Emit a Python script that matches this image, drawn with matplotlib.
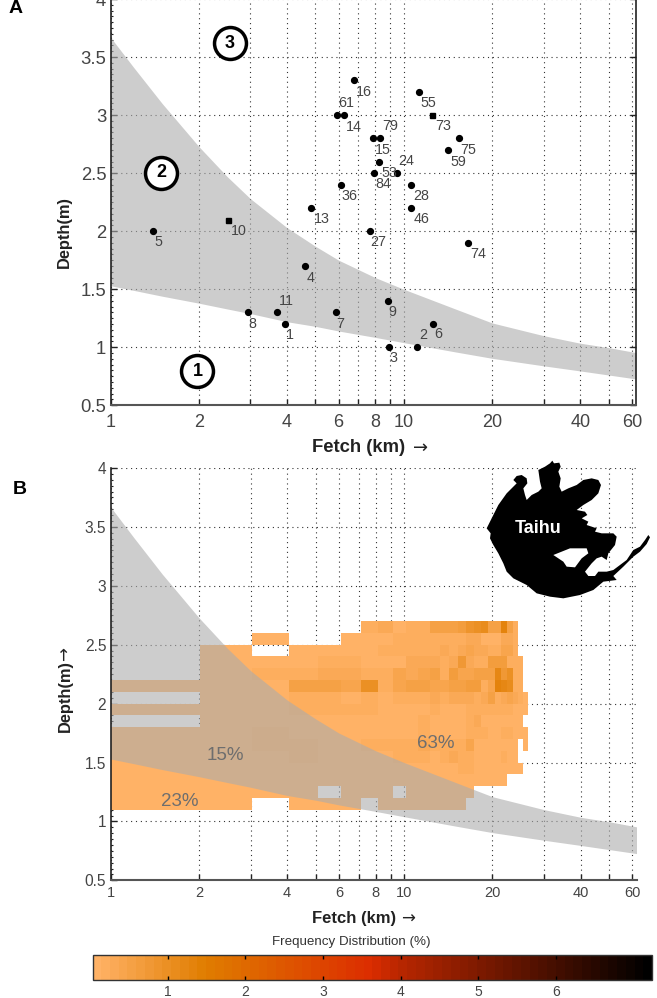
import numpy as np
import matplotlib
matplotlib.use("Agg")
import matplotlib.pyplot as plt
from matplotlib.colors import LinearSegmentedColormap

nan = np.nan

# grey band
fetch_band = [1, 1.2, 1.5, 2, 2.5, 3, 4, 5, 6, 8, 10, 15, 20, 30, 40, 50, 62]
band_upper = [3.67, 3.41, 3.10, 2.73, 2.47, 2.28, 2.03, 1.87, 1.75, 1.60, 1.50, 1.33, 1.21, 1.10, 1.035, 0.997, 0.954]
band_lower = [1.53, 1.49, 1.44, 1.38, 1.33, 1.29, 1.22, 1.18, 1.14, 1.085, 1.04, 0.96, 0.905, 0.84, 0.796, 0.761, 0.727]

# lakes in panel A
lake_names = ["16", "55", "61", "14", "73", "79", "15", "75", "59", "53", "84", "24", "36", "28",
              "13", "46", "10", "5", "27", "74", "4", "9", "8", "11", "7", "1", "6", "2", "3"]
lake_fetch = [6.75, 11.3, 6.24, 5.92, 12.5, 8.3, 7.87, 15.4, 14.2, 8.25, 7.93, 9.48, 6.09, 10.6,
              4.82, 10.6, 2.52, 1.40, 7.65, 16.6, 4.62, 8.81, 2.94, 3.70, 5.86, 3.94, 12.55, 11.1, 8.88]
lake_depth = [3.3, 3.2, 3.0, 3.0, 3.0, 2.8, 2.8, 2.8, 2.7, 2.6, 2.5, 2.5, 2.4, 2.4,
              2.2, 2.2, 2.1, 2.0, 2.0, 1.9, 1.7, 1.4, 1.3, 1.3, 1.3, 1.2, 1.2, 1.0, 1.0]
square_lakes = ["73", "10"]
# label offset from its point, in pixels
label_dx = [10.7, 9.3, 3, 17.3, 10.7, 10, 10, 10, 10, 10, 9, 9.7, 9.3, 10,
            11, 10.3, 10.3, 5.3, 9, 9.7, 5.7, 5, 5, 9.7, 5, 5, 6, 6, 5.3]
label_dy = [11.3, 11, -12.3, 12, 11.3, -12, 11.3, 11.3, 11.7, 11.3, 11.3, -11.7, 11.7, 11.7,
            11.3, 11.3, 11.7, 11.3, 11.3, 11, 11.7, 11.3, 11.3, -11.3, 11.3, 11.3, 10.3, -12.7, 11]

# frequency cells of panel B
fetch_edges = [1, 2.02, 3.04, 4.06, 5.08, 6.1, 7.12, 8.14, 9.16, 10.18, 11.2, 12.22, 13.24, 14.26,
               15.28, 16.3, 17.32, 18.34, 19.36, 20.38, 21.4, 22.42, 23.44, 24.46, 25.48, 26.5]
depth_edges = [1.1, 1.2, 1.3, 1.4, 1.5, 1.6, 1.7, 1.8, 1.9, 2.0, 2.1, 2.2, 2.3, 2.4, 2.5, 2.6, 2.7]
freq = np.array([
    [.1, .1, nan, .1, .1, .1, nan, .1, .1, .1, .1, .1, .1, .1, .1, nan, nan, nan, nan, nan, nan, nan, nan, nan, nan],
    [.1, .1, .1, .1, nan, .1, .1, .1, nan, .1, .1, .1, .1, .1, .1, .1, nan, nan, nan, nan, nan, nan, nan, nan, nan],
    [.1, .1, .1, .1, .1, .1, .1, .1, .1, .1, .12, .1, .1, .1, .12, .1, .1, .1, .1, .1, .1, nan, nan, nan, nan],
    [.1, .1, .1, .1, .1, .1, .1, .1, .1, .1, .1, .1, .1, .12, .15, .2, .1, .1, .1, .1, .1, .1, .1, .1, nan],
    [.1, .1, .12, .15, .1, .1, .1, .1, .2, .2, .25, .12, .15, .3, .15, .15, .12, .1, .1, .12, .2, .1, .1, nan, nan],
    [.1, .1, .15, .18, .1, .12, .18, .2, .2, .2, .3, .25, .25, .25, .25, .4, .1, .1, .1, .1, .1, .1, .1, nan, .12],
    [.1, .12, .2, .12, .1, .1, .1, .1, .1, .1, .18, .1, .1, .12, .1, .15, .2, .25, .1, .1, .2, .2, .1, .1, .12],
    [nan, .1, .12, .1, .1, .1, .1, .1, .1, .1, .2, .1, .1, .1, .1, .2, .3, .1, .1, .1, .1, .1, .1, .1, nan],
    [.1, .1, .1, .15, .15, .15, .15, .1, .1, .1, .1, .2, .12, .12, .12, .25, .15, .25, .15, .15, .15, .15, .12, .12, .12],
    [nan, .1, .1, .15, .15, .12, .15, .1, .2, .2, .2, .3, .2, .3, .3, .35, .2, .33, .5, .18, .35, .4, .35, .2, .12],
    [.1, .1, .1, .55, .55, .4, .95, .25, .4, .5, .5, .45, .45, .55, .55, .65, .65, .25, .45, 1.3, 1.2, 1.05, .25, .15, nan],
    [nan, .1, .18, .2, .3, .3, .2, .2, .4, .3, .4, .55, .15, .6, .45, .45, .5, .5, .55, 1.2, .75, .95, .25, .18, nan],
    [nan, .1, .1, .1, .18, .18, .1, .1, .1, .3, .3, .33, .15, .33, .75, .33, .15, .18, .6, .6, .6, .2, .18, .15, nan],
    [nan, .1, nan, .1, .1, .1, .1, .25, .2, .2, .2, .25, .35, .2, .35, .4, .3, .35, .15, .18, .45, .4, .2, nan, nan],
    [nan, nan, .1, nan, nan, .1, .12, .1, .18, .18, .18, .2, .2, .18, .18, .3, .35, .12, .12, .12, .35, .33, .18, nan, nan],
    [nan, nan, nan, nan, nan, nan, .18, .3, .12, .25, .25, .55, .55, .5, .7, .85, 1.0, 1.1, .55, .55, 1.35, .55, .25, nan, nan],
])

# colour scale
cbar_min = 0.03
cbar_max = 7.24
cbar_stops = [0.0, 0.197, 0.495, 0.55, 1.0]
cbar_colors = ["#ffb266", "#e07d00", "#dc2d00", "#b82600", "#000000"]
cbar_ticks = [1, 2, 3, 4, 5, 6]

x_ticks = [1, 2, 3, 4, 5, 6, 7, 8, 9, 10, 20, 30, 40, 50, 60]
x_labels = ["1", "2", "", "4", "", "6", "", "8", "", "10", "20", "", "40", "", "60"]
y_ticks = [0.5, 1, 1.5, 2, 2.5, 3, 3.5, 4]
y_labels = ["0.5", "1", "1.5", "2", "2.5", "3", "3.5", "4"]

# zone markers
zone_names = ["1", "2", "3"]
zone_fetch = [1.98, 1.486, 2.55]
zone_depth = [0.793, 2.504, 3.617]

# share of cells per zone
share_names = ["63%", "15%", "23%"]
share_fetch = [12.88, 2.46, 1.726]
share_depth = [1.66, 1.56, 1.17]

# Taihu outline
taihu_x = [50, 65, 85, 110, 135, 140, 130, 140, 155, 170, 172, 160, 165, 170, 185, 205, 215, 210, 205, 225, 240, 247,
           252, 268, 272, 265, 272, 268, 275, 295, 320, 340, 365, 385, 393, 385, 365, 340, 320, 345, 352, 335, 355, 350,
           380, 375, 395, 430, 440, 435, 415, 410, 395, 380, 365, 345, 355, 375, 385, 410, 430, 470, 490, 510, 525, 535,
           540, 530, 510, 490, 460, 430, 440, 400, 370, 330, 280, 240, 200, 170, 130, 110, 100, 85, 70, 60, 62]
taihu_y = [235, 205, 165, 130, 105, 100, 90, 78, 75, 85, 100, 115, 135, 150, 135, 125, 115, 95, 60, 50, 40, 32,
           40, 38, 50, 65, 85, 110, 125, 115, 105, 90, 85, 90, 105, 130, 150, 165, 180, 185, 195, 205, 215, 225,
           235, 245, 250, 250, 260, 285, 310, 330, 320, 325, 340, 365, 378, 378, 365, 365, 360, 330, 300, 290, 270, 255,
           262, 282, 305, 320, 350, 378, 390, 395, 420, 435, 445, 440, 430, 405, 385, 365, 340, 310, 285, 265, 250]
bay_x = [250, 300, 350, 355, 335, 315, 290, 280]
bay_y = [315, 295, 295, 310, 325, 352, 350, 335]

W, H = 657, 998
TEXT = "#444444"
SANS = ["Liberation Sans", "DejaVu Sans"]
plt.rcParams["font.family"] = SANS

fig = plt.figure(figsize=(W / 100, H / 100), dpi=100)


def box(left, top, right, bottom):
    return [left / W, 1 - bottom / H, (right - left) / W, (bottom - top) / H]


def setup_axes(ax, tick_size, x_size, pad_x):
    ax.set_xscale("log")
    ax.set_xlim(1, 62)
    ax.set_ylim(0.5, 4)
    ax.set_xticks(x_ticks)
    ax.set_xticklabels(x_labels, fontsize=x_size, color=TEXT)
    ax.minorticks_off()
    ax.set_yticks(y_ticks)
    ax.set_yticklabels(y_labels, fontsize=tick_size, color=TEXT)
    ax.set_yticks(np.arange(0.5, 4.01, 0.05), minor=True)
    ax.tick_params(axis="x", which="major", direction="in", length=4, width=1, pad=pad_x, color="#222222")
    ax.tick_params(axis="x", which="minor", length=0)
    ax.tick_params(axis="y", which="major", direction="in", length=4, width=1, pad=3, color="#222222")
    ax.tick_params(axis="y", which="minor", direction="in", length=1.6, width=0.8, color="#222222")
    ax.grid(True, which="major", color="#333333", linewidth=0.8, linestyle=(0, (1, 3.4)))
    ax.set_axisbelow(True)
    ax.spines["top"].set_visible(False)
    ax.spines["left"].set_linewidth(1.2)
    ax.spines["left"].set_color("#222222")
    ax.spines["bottom"].set_linewidth(1.5)
    ax.spines["bottom"].set_color("#555555")
    ax.fill_between(fetch_band, band_lower, band_upper, color="#acacac", alpha=0.6, linewidth=0, zorder=2)


# Panel A
ax_a = fig.add_axes(box(110.5, -1, 636, 405.3))
setup_axes(ax_a, 13.3, 13, 6)
ax_a.spines["right"].set_linewidth(1.2)
ax_a.spines["right"].set_color("#222222")
ax_a.tick_params(axis="y", which="major", right=True)

for i in range(len(lake_names)):
    marker = "s" if lake_names[i] in square_lakes else "o"
    size = 3.6 if marker == "s" else 4.2
    ax_a.plot(lake_fetch[i], lake_depth[i], marker=marker, color="black", markersize=size, zorder=3, clip_on=False)
    ax_a.annotate(lake_names[i], (lake_fetch[i], lake_depth[i]), xytext=(label_dx[i], -label_dy[i]),
                  textcoords="offset pixels", ha="center", va="center", fontsize=10.3, color=TEXT, zorder=4)

for i in range(len(zone_names)):
    ax_a.plot(zone_fetch[i], zone_depth[i], marker="o", markersize=23, markerfacecolor="white",
              markeredgecolor="black", markeredgewidth=2.5, zorder=5)
    ax_a.text(zone_fetch[i], zone_depth[i], zone_names[i], ha="center", va="center", fontsize=13,
              fontweight="bold", color="black", zorder=6)

# Panel B
ax_b = fig.add_axes(box(110.5, 468, 636.5, 880.3))
setup_axes(ax_b, 11.2, 10.5, 4)
ax_b.spines["right"].set_visible(False)

cmap = LinearSegmentedColormap.from_list("freq", list(zip(cbar_stops, cbar_colors)), N=64)
mesh = ax_b.pcolormesh(fetch_edges, depth_edges, np.ma.masked_invalid(freq), cmap=cmap,
                       vmin=cbar_min, vmax=cbar_max, linewidth=0, antialiased=False, zorder=1)

for i in range(len(share_names)):
    ax_b.text(share_fetch[i], share_depth[i], share_names[i], ha="center", va="center", fontsize=13.5,
              color="#6e6e6e", zorder=4)

# Taihu silhouette
ax_lake = fig.add_axes(box(470, 450, 650, 610))
ax_lake.set_xlim(0, 540)
ax_lake.set_ylim(480, 0)
ax_lake.axis("off")
ax_lake.patch.set_alpha(0)
ax_lake.fill(taihu_x, taihu_y, color="black", linewidth=0)
ax_lake.fill(bay_x, bay_y, color="white", linewidth=0)
ax_lake.text(205, 236, "Taihu", color="white", fontsize=13, fontweight="bold", ha="center", va="center")

# Colour bar
cax = fig.add_axes(box(92.5, 955, 652, 980))
cb = fig.colorbar(mesh, cax=cax, orientation="horizontal", ticks=cbar_ticks)
cb.ax.tick_params(direction="in", length=3, width=1, top=True, bottom=True, labelsize=10, labelcolor=TEXT, pad=3.5)
cb.outline.set_linewidth(1)
cb.outline.set_edgecolor("#333333")


def px_text(x, y, s, **kw):
    fig.text(x / W, 1 - y / H, s, ha="center", va="center", **kw)


px_text(359, 448, "Fetch (km)", fontsize=13.3, fontweight="bold", color="#222222")
px_text(421, 448, "\u2192", fontsize=13, color="#222222", family="DejaVu Sans")
px_text(354, 919, "Fetch (km)", fontsize=12, fontweight="bold", color="#222222")
px_text(408, 919, "\u2192", fontsize=12, color="#222222", family="DejaVu Sans")
px_text(64, 232, "Depth(m)", fontsize=11.8, fontweight="bold", color="#222222", rotation=90)
px_text(65, 696, "Depth(m)", fontsize=11.8, fontweight="bold", color="#222222", rotation=90)
px_text(65, 654, "\u2192", fontsize=12, color="#222222", rotation=90, family="DejaVu Sans")
px_text(351, 942, "Frequency Distribution (%)", fontsize=9.6, color="#333333")
px_text(16, 8.5, "A", fontsize=14, fontweight="bold", color="black")
px_text(20, 489, "B", fontsize=14, fontweight="bold", color="black")

fig.savefig("out.png", dpi=100, facecolor="white")
